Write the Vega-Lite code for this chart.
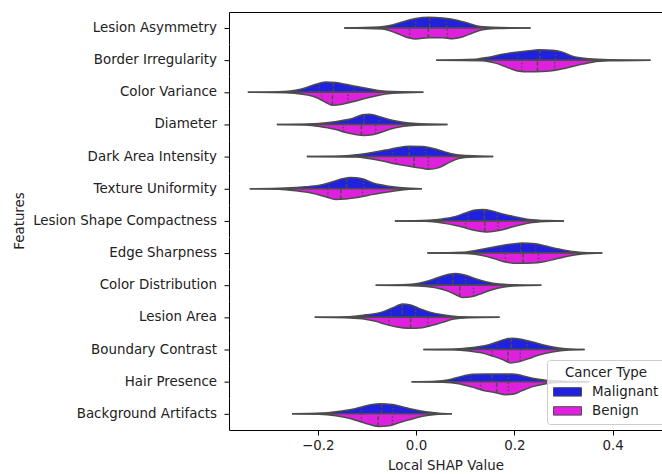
{
"$schema": "https://vega.github.io/schema/vega-lite/v6.json",
"padding": {"left": 12, "top": 12, "right": 0, "bottom": 2},
"bounds": "flush",
"config": {"view": {"stroke": null}, "font": "DejaVu Sans"},
"data": {"values": [
{"feature":"Lesion Asymmetry","type":"Malignant","kind":"outline","shap":-0.146,"density":0},
{"feature":"Lesion Asymmetry","type":"Malignant","kind":"outline","shap":-0.075,"density":1},
{"feature":"Lesion Asymmetry","type":"Malignant","kind":"outline","shap":-0.048,"density":3},
{"feature":"Lesion Asymmetry","type":"Malignant","kind":"outline","shap":-0.028,"density":6},
{"feature":"Lesion Asymmetry","type":"Malignant","kind":"outline","shap":-0.001,"density":9.5},
{"feature":"Lesion Asymmetry","type":"Malignant","kind":"outline","shap":0.026,"density":10.7},
{"feature":"Lesion Asymmetry","type":"Malignant","kind":"outline","shap":0.054,"density":10},
{"feature":"Lesion Asymmetry","type":"Malignant","kind":"outline","shap":0.081,"density":8},
{"feature":"Lesion Asymmetry","type":"Malignant","kind":"outline","shap":0.108,"density":4.5},
{"feature":"Lesion Asymmetry","type":"Malignant","kind":"outline","shap":0.125,"density":2},
{"feature":"Lesion Asymmetry","type":"Malignant","kind":"outline","shap":0.155,"density":0.7},
{"feature":"Lesion Asymmetry","type":"Malignant","kind":"outline","shap":0.233,"density":0},
{"feature":"Lesion Asymmetry","type":"Benign","kind":"outline","shap":-0.146,"density":0},
{"feature":"Lesion Asymmetry","type":"Benign","kind":"outline","shap":-0.068,"density":1},
{"feature":"Lesion Asymmetry","type":"Benign","kind":"outline","shap":-0.041,"density":5},
{"feature":"Lesion Asymmetry","type":"Benign","kind":"outline","shap":-0.014,"density":10},
{"feature":"Lesion Asymmetry","type":"Benign","kind":"outline","shap":-0.001,"density":11},
{"feature":"Lesion Asymmetry","type":"Benign","kind":"outline","shap":0.026,"density":9.7},
{"feature":"Lesion Asymmetry","type":"Benign","kind":"outline","shap":0.054,"density":9.7},
{"feature":"Lesion Asymmetry","type":"Benign","kind":"outline","shap":0.074,"density":10.7},
{"feature":"Lesion Asymmetry","type":"Benign","kind":"outline","shap":0.094,"density":9},
{"feature":"Lesion Asymmetry","type":"Benign","kind":"outline","shap":0.115,"density":5},
{"feature":"Lesion Asymmetry","type":"Benign","kind":"outline","shap":0.135,"density":1.7},
{"feature":"Lesion Asymmetry","type":"Benign","kind":"outline","shap":0.162,"density":0.5},
{"feature":"Lesion Asymmetry","type":"Benign","kind":"outline","shap":0.233,"density":0},
{"feature":"Lesion Asymmetry","type":"Malignant","kind":"quartile","shap":-0.001,"density":9.5},
{"feature":"Lesion Asymmetry","type":"Malignant","kind":"median","shap":0.028,"density":10.65},
{"feature":"Lesion Asymmetry","type":"Malignant","kind":"quartile","shap":0.062,"density":9.4},
{"feature":"Lesion Asymmetry","type":"Benign","kind":"quartile","shap":-0.013,"density":10.1},
{"feature":"Lesion Asymmetry","type":"Benign","kind":"median","shap":0.025,"density":9.75},
{"feature":"Lesion Asymmetry","type":"Benign","kind":"quartile","shap":0.064,"density":10},

{"feature":"Border Irregularity","type":"Malignant","kind":"outline","shap":0.041,"density":0},
{"feature":"Border Irregularity","type":"Malignant","kind":"outline","shap":0.121,"density":1},
{"feature":"Border Irregularity","type":"Malignant","kind":"outline","shap":0.148,"density":3},
{"feature":"Border Irregularity","type":"Malignant","kind":"outline","shap":0.176,"density":6},
{"feature":"Border Irregularity","type":"Malignant","kind":"outline","shap":0.203,"density":8},
{"feature":"Border Irregularity","type":"Malignant","kind":"outline","shap":0.230,"density":9.5},
{"feature":"Border Irregularity","type":"Malignant","kind":"outline","shap":0.250,"density":10.3},
{"feature":"Border Irregularity","type":"Malignant","kind":"outline","shap":0.277,"density":10},
{"feature":"Border Irregularity","type":"Malignant","kind":"outline","shap":0.298,"density":8},
{"feature":"Border Irregularity","type":"Malignant","kind":"outline","shap":0.318,"density":4},
{"feature":"Border Irregularity","type":"Malignant","kind":"outline","shap":0.352,"density":1.5},
{"feature":"Border Irregularity","type":"Malignant","kind":"outline","shap":0.393,"density":0.5},
{"feature":"Border Irregularity","type":"Malignant","kind":"outline","shap":0.477,"density":0},
{"feature":"Border Irregularity","type":"Benign","kind":"outline","shap":0.041,"density":0},
{"feature":"Border Irregularity","type":"Benign","kind":"outline","shap":0.135,"density":0.5},
{"feature":"Border Irregularity","type":"Benign","kind":"outline","shap":0.162,"density":3},
{"feature":"Border Irregularity","type":"Benign","kind":"outline","shap":0.189,"density":8},
{"feature":"Border Irregularity","type":"Benign","kind":"outline","shap":0.209,"density":11},
{"feature":"Border Irregularity","type":"Benign","kind":"outline","shap":0.230,"density":11.7},
{"feature":"Border Irregularity","type":"Benign","kind":"outline","shap":0.257,"density":11.3},
{"feature":"Border Irregularity","type":"Benign","kind":"outline","shap":0.284,"density":10},
{"feature":"Border Irregularity","type":"Benign","kind":"outline","shap":0.304,"density":8},
{"feature":"Border Irregularity","type":"Benign","kind":"outline","shap":0.332,"density":4.7},
{"feature":"Border Irregularity","type":"Benign","kind":"outline","shap":0.359,"density":2},
{"feature":"Border Irregularity","type":"Benign","kind":"outline","shap":0.393,"density":0.7},
{"feature":"Border Irregularity","type":"Benign","kind":"outline","shap":0.477,"density":0},
{"feature":"Border Irregularity","type":"Malignant","kind":"quartile","shap":0.207,"density":8.2},
{"feature":"Border Irregularity","type":"Malignant","kind":"median","shap":0.252,"density":10.3},
{"feature":"Border Irregularity","type":"Malignant","kind":"quartile","shap":0.284,"density":9.4},
{"feature":"Border Irregularity","type":"Benign","kind":"quartile","shap":0.215,"density":11.2},
{"feature":"Border Irregularity","type":"Benign","kind":"median","shap":0.247,"density":11.4},
{"feature":"Border Irregularity","type":"Benign","kind":"quartile","shap":0.282,"density":10.1},

{"feature":"Color Variance","type":"Malignant","kind":"outline","shap":-0.342,"density":0},
{"feature":"Color Variance","type":"Malignant","kind":"outline","shap":-0.279,"density":0.5},
{"feature":"Color Variance","type":"Malignant","kind":"outline","shap":-0.245,"density":2},
{"feature":"Color Variance","type":"Malignant","kind":"outline","shap":-0.224,"density":4.5},
{"feature":"Color Variance","type":"Malignant","kind":"outline","shap":-0.204,"density":8},
{"feature":"Color Variance","type":"Malignant","kind":"outline","shap":-0.184,"density":10.3},
{"feature":"Color Variance","type":"Malignant","kind":"outline","shap":-0.163,"density":9.7},
{"feature":"Color Variance","type":"Malignant","kind":"outline","shap":-0.143,"density":8},
{"feature":"Color Variance","type":"Malignant","kind":"outline","shap":-0.123,"density":6},
{"feature":"Color Variance","type":"Malignant","kind":"outline","shap":-0.096,"density":3.5},
{"feature":"Color Variance","type":"Malignant","kind":"outline","shap":-0.062,"density":1},
{"feature":"Color Variance","type":"Malignant","kind":"outline","shap":0.015,"density":0},
{"feature":"Color Variance","type":"Benign","kind":"outline","shap":-0.342,"density":0},
{"feature":"Color Variance","type":"Benign","kind":"outline","shap":-0.265,"density":0.5},
{"feature":"Color Variance","type":"Benign","kind":"outline","shap":-0.231,"density":2},
{"feature":"Color Variance","type":"Benign","kind":"outline","shap":-0.204,"density":5},
{"feature":"Color Variance","type":"Benign","kind":"outline","shap":-0.184,"density":10},
{"feature":"Color Variance","type":"Benign","kind":"outline","shap":-0.170,"density":13},
{"feature":"Color Variance","type":"Benign","kind":"outline","shap":-0.150,"density":12},
{"feature":"Color Variance","type":"Benign","kind":"outline","shap":-0.129,"density":9.5},
{"feature":"Color Variance","type":"Benign","kind":"outline","shap":-0.102,"density":6},
{"feature":"Color Variance","type":"Benign","kind":"outline","shap":-0.075,"density":3},
{"feature":"Color Variance","type":"Benign","kind":"outline","shap":-0.048,"density":1},
{"feature":"Color Variance","type":"Benign","kind":"outline","shap":0.015,"density":0},
{"feature":"Color Variance","type":"Malignant","kind":"quartile","shap":-0.197,"density":8.8},
{"feature":"Color Variance","type":"Malignant","kind":"median","shap":-0.168,"density":9.85},
{"feature":"Color Variance","type":"Malignant","kind":"quartile","shap":-0.126,"density":6.3},
{"feature":"Color Variance","type":"Benign","kind":"quartile","shap":-0.192,"density":8},
{"feature":"Color Variance","type":"Benign","kind":"median","shap":-0.170,"density":13},
{"feature":"Color Variance","type":"Benign","kind":"quartile","shap":-0.138,"density":10.6},

{"feature":"Diameter","type":"Malignant","kind":"outline","shap":-0.283,"density":0},
{"feature":"Diameter","type":"Malignant","kind":"outline","shap":-0.218,"density":0.5},
{"feature":"Diameter","type":"Malignant","kind":"outline","shap":-0.177,"density":2},
{"feature":"Diameter","type":"Malignant","kind":"outline","shap":-0.150,"density":4},
{"feature":"Diameter","type":"Malignant","kind":"outline","shap":-0.129,"density":6},
{"feature":"Diameter","type":"Malignant","kind":"outline","shap":-0.109,"density":9.7},
{"feature":"Diameter","type":"Malignant","kind":"outline","shap":-0.096,"density":10.3},
{"feature":"Diameter","type":"Malignant","kind":"outline","shap":-0.082,"density":9},
{"feature":"Diameter","type":"Malignant","kind":"outline","shap":-0.062,"density":6},
{"feature":"Diameter","type":"Malignant","kind":"outline","shap":-0.041,"density":3.5},
{"feature":"Diameter","type":"Malignant","kind":"outline","shap":-0.014,"density":1.5},
{"feature":"Diameter","type":"Malignant","kind":"outline","shap":0.064,"density":0},
{"feature":"Diameter","type":"Benign","kind":"outline","shap":-0.283,"density":0},
{"feature":"Diameter","type":"Benign","kind":"outline","shap":-0.224,"density":0.5},
{"feature":"Diameter","type":"Benign","kind":"outline","shap":-0.191,"density":2.5},
{"feature":"Diameter","type":"Benign","kind":"outline","shap":-0.163,"density":5},
{"feature":"Diameter","type":"Benign","kind":"outline","shap":-0.143,"density":8},
{"feature":"Diameter","type":"Benign","kind":"outline","shap":-0.123,"density":10},
{"feature":"Diameter","type":"Benign","kind":"outline","shap":-0.106,"density":11},
{"feature":"Diameter","type":"Benign","kind":"outline","shap":-0.089,"density":10.3},
{"feature":"Diameter","type":"Benign","kind":"outline","shap":-0.075,"density":8.5},
{"feature":"Diameter","type":"Benign","kind":"outline","shap":-0.055,"density":5},
{"feature":"Diameter","type":"Benign","kind":"outline","shap":-0.028,"density":2},
{"feature":"Diameter","type":"Benign","kind":"outline","shap":-0.001,"density":0.7},
{"feature":"Diameter","type":"Benign","kind":"outline","shap":0.064,"density":0},
{"feature":"Diameter","type":"Malignant","kind":"quartile","shap":-0.138,"density":5.1},
{"feature":"Diameter","type":"Malignant","kind":"median","shap":-0.106,"density":9.8},
{"feature":"Diameter","type":"Malignant","kind":"quartile","shap":-0.075,"density":8},
{"feature":"Diameter","type":"Benign","kind":"quartile","shap":-0.148,"density":7.3},
{"feature":"Diameter","type":"Benign","kind":"median","shap":-0.111,"density":10.8},
{"feature":"Diameter","type":"Benign","kind":"quartile","shap":-0.082,"density":9.4},

{"feature":"Dark Area Intensity","type":"Malignant","kind":"outline","shap":-0.222,"density":0},
{"feature":"Dark Area Intensity","type":"Malignant","kind":"outline","shap":-0.150,"density":0.5},
{"feature":"Dark Area Intensity","type":"Malignant","kind":"outline","shap":-0.116,"density":2},
{"feature":"Dark Area Intensity","type":"Malignant","kind":"outline","shap":-0.089,"density":4},
{"feature":"Dark Area Intensity","type":"Malignant","kind":"outline","shap":-0.062,"density":6.5},
{"feature":"Dark Area Intensity","type":"Malignant","kind":"outline","shap":-0.041,"density":8.5},
{"feature":"Dark Area Intensity","type":"Malignant","kind":"outline","shap":-0.014,"density":10.3},
{"feature":"Dark Area Intensity","type":"Malignant","kind":"outline","shap":0.013,"density":10},
{"feature":"Dark Area Intensity","type":"Malignant","kind":"outline","shap":0.040,"density":7.5},
{"feature":"Dark Area Intensity","type":"Malignant","kind":"outline","shap":0.060,"density":4.5},
{"feature":"Dark Area Intensity","type":"Malignant","kind":"outline","shap":0.087,"density":1.5},
{"feature":"Dark Area Intensity","type":"Malignant","kind":"outline","shap":0.157,"density":0},
{"feature":"Dark Area Intensity","type":"Benign","kind":"outline","shap":-0.222,"density":0},
{"feature":"Dark Area Intensity","type":"Benign","kind":"outline","shap":-0.123,"density":0.5},
{"feature":"Dark Area Intensity","type":"Benign","kind":"outline","shap":-0.096,"density":2},
{"feature":"Dark Area Intensity","type":"Benign","kind":"outline","shap":-0.068,"density":4.5},
{"feature":"Dark Area Intensity","type":"Benign","kind":"outline","shap":-0.041,"density":7.5},
{"feature":"Dark Area Intensity","type":"Benign","kind":"outline","shap":-0.014,"density":9.7},
{"feature":"Dark Area Intensity","type":"Benign","kind":"outline","shap":0.013,"density":11.7},
{"feature":"Dark Area Intensity","type":"Benign","kind":"outline","shap":0.026,"density":12.7},
{"feature":"Dark Area Intensity","type":"Benign","kind":"outline","shap":0.047,"density":11},
{"feature":"Dark Area Intensity","type":"Benign","kind":"outline","shap":0.067,"density":6},
{"feature":"Dark Area Intensity","type":"Benign","kind":"outline","shap":0.087,"density":2},
{"feature":"Dark Area Intensity","type":"Benign","kind":"outline","shap":0.115,"density":0.5},
{"feature":"Dark Area Intensity","type":"Benign","kind":"outline","shap":0.157,"density":0},
{"feature":"Dark Area Intensity","type":"Malignant","kind":"quartile","shap":-0.048,"density":8},
{"feature":"Dark Area Intensity","type":"Malignant","kind":"median","shap":-0.014,"density":10.3},
{"feature":"Dark Area Intensity","type":"Malignant","kind":"quartile","shap":0.020,"density":9.4},
{"feature":"Dark Area Intensity","type":"Benign","kind":"quartile","shap":-0.041,"density":7.5},
{"feature":"Dark Area Intensity","type":"Benign","kind":"median","shap":-0.004,"density":10.4},
{"feature":"Dark Area Intensity","type":"Benign","kind":"quartile","shap":0.025,"density":12.6},

{"feature":"Texture Uniformity","type":"Malignant","kind":"outline","shap":-0.338,"density":0},
{"feature":"Texture Uniformity","type":"Malignant","kind":"outline","shap":-0.265,"density":0.7},
{"feature":"Texture Uniformity","type":"Malignant","kind":"outline","shap":-0.224,"density":2},
{"feature":"Texture Uniformity","type":"Malignant","kind":"outline","shap":-0.191,"density":4},
{"feature":"Texture Uniformity","type":"Malignant","kind":"outline","shap":-0.170,"density":7},
{"feature":"Texture Uniformity","type":"Malignant","kind":"outline","shap":-0.150,"density":10},
{"feature":"Texture Uniformity","type":"Malignant","kind":"outline","shap":-0.133,"density":11.3},
{"feature":"Texture Uniformity","type":"Malignant","kind":"outline","shap":-0.109,"density":10},
{"feature":"Texture Uniformity","type":"Malignant","kind":"outline","shap":-0.089,"density":6},
{"feature":"Texture Uniformity","type":"Malignant","kind":"outline","shap":-0.062,"density":3},
{"feature":"Texture Uniformity","type":"Malignant","kind":"outline","shap":-0.028,"density":1},
{"feature":"Texture Uniformity","type":"Malignant","kind":"outline","shap":0.012,"density":0},
{"feature":"Texture Uniformity","type":"Benign","kind":"outline","shap":-0.338,"density":0},
{"feature":"Texture Uniformity","type":"Benign","kind":"outline","shap":-0.279,"density":0.5},
{"feature":"Texture Uniformity","type":"Benign","kind":"outline","shap":-0.245,"density":2},
{"feature":"Texture Uniformity","type":"Benign","kind":"outline","shap":-0.211,"density":4.5},
{"feature":"Texture Uniformity","type":"Benign","kind":"outline","shap":-0.184,"density":8},
{"feature":"Texture Uniformity","type":"Benign","kind":"outline","shap":-0.163,"density":10.7},
{"feature":"Texture Uniformity","type":"Benign","kind":"outline","shap":-0.143,"density":10.3},
{"feature":"Texture Uniformity","type":"Benign","kind":"outline","shap":-0.123,"density":9},
{"feature":"Texture Uniformity","type":"Benign","kind":"outline","shap":-0.096,"density":6.5},
{"feature":"Texture Uniformity","type":"Benign","kind":"outline","shap":-0.068,"density":4},
{"feature":"Texture Uniformity","type":"Benign","kind":"outline","shap":-0.041,"density":2},
{"feature":"Texture Uniformity","type":"Benign","kind":"outline","shap":-0.014,"density":0.5},
{"feature":"Texture Uniformity","type":"Benign","kind":"outline","shap":0.012,"density":0},
{"feature":"Texture Uniformity","type":"Malignant","kind":"quartile","shap":-0.177,"density":6},
{"feature":"Texture Uniformity","type":"Malignant","kind":"median","shap":-0.141,"density":10.7},
{"feature":"Texture Uniformity","type":"Malignant","kind":"quartile","shap":-0.106,"density":9.4},
{"feature":"Texture Uniformity","type":"Benign","kind":"quartile","shap":-0.179,"density":8.6},
{"feature":"Texture Uniformity","type":"Benign","kind":"median","shap":-0.153,"density":10.5},
{"feature":"Texture Uniformity","type":"Benign","kind":"quartile","shap":-0.109,"density":7.7},

{"feature":"Lesion Shape Compactness","type":"Malignant","kind":"outline","shap":-0.043,"density":0},
{"feature":"Lesion Shape Compactness","type":"Malignant","kind":"outline","shap":0.026,"density":0.7},
{"feature":"Lesion Shape Compactness","type":"Malignant","kind":"outline","shap":0.054,"density":2},
{"feature":"Lesion Shape Compactness","type":"Malignant","kind":"outline","shap":0.081,"density":4.5},
{"feature":"Lesion Shape Compactness","type":"Malignant","kind":"outline","shap":0.101,"density":8},
{"feature":"Lesion Shape Compactness","type":"Malignant","kind":"outline","shap":0.121,"density":11},
{"feature":"Lesion Shape Compactness","type":"Malignant","kind":"outline","shap":0.135,"density":11.3},
{"feature":"Lesion Shape Compactness","type":"Malignant","kind":"outline","shap":0.155,"density":10},
{"feature":"Lesion Shape Compactness","type":"Malignant","kind":"outline","shap":0.176,"density":7},
{"feature":"Lesion Shape Compactness","type":"Malignant","kind":"outline","shap":0.203,"density":4},
{"feature":"Lesion Shape Compactness","type":"Malignant","kind":"outline","shap":0.230,"density":1.5},
{"feature":"Lesion Shape Compactness","type":"Malignant","kind":"outline","shap":0.271,"density":0.3},
{"feature":"Lesion Shape Compactness","type":"Malignant","kind":"outline","shap":0.301,"density":0},
{"feature":"Lesion Shape Compactness","type":"Benign","kind":"outline","shap":-0.043,"density":0},
{"feature":"Lesion Shape Compactness","type":"Benign","kind":"outline","shap":0.020,"density":0.3},
{"feature":"Lesion Shape Compactness","type":"Benign","kind":"outline","shap":0.054,"density":2},
{"feature":"Lesion Shape Compactness","type":"Benign","kind":"outline","shap":0.081,"density":4.5},
{"feature":"Lesion Shape Compactness","type":"Benign","kind":"outline","shap":0.101,"density":7},
{"feature":"Lesion Shape Compactness","type":"Benign","kind":"outline","shap":0.121,"density":9.7},
{"feature":"Lesion Shape Compactness","type":"Benign","kind":"outline","shap":0.142,"density":11},
{"feature":"Lesion Shape Compactness","type":"Benign","kind":"outline","shap":0.162,"density":10},
{"feature":"Lesion Shape Compactness","type":"Benign","kind":"outline","shap":0.182,"density":8},
{"feature":"Lesion Shape Compactness","type":"Benign","kind":"outline","shap":0.203,"density":5},
{"feature":"Lesion Shape Compactness","type":"Benign","kind":"outline","shap":0.230,"density":2},
{"feature":"Lesion Shape Compactness","type":"Benign","kind":"outline","shap":0.264,"density":0.5},
{"feature":"Lesion Shape Compactness","type":"Benign","kind":"outline","shap":0.301,"density":0},
{"feature":"Lesion Shape Compactness","type":"Malignant","kind":"quartile","shap":0.106,"density":8.75},
{"feature":"Lesion Shape Compactness","type":"Malignant","kind":"median","shap":0.139,"density":11.1},
{"feature":"Lesion Shape Compactness","type":"Malignant","kind":"quartile","shap":0.165,"density":8.6},
{"feature":"Lesion Shape Compactness","type":"Benign","kind":"quartile","shap":0.101,"density":7},
{"feature":"Lesion Shape Compactness","type":"Benign","kind":"median","shap":0.140,"density":10.9},
{"feature":"Lesion Shape Compactness","type":"Benign","kind":"quartile","shap":0.167,"density":9.5},

{"feature":"Edge Sharpness","type":"Malignant","kind":"outline","shap":0.023,"density":0},
{"feature":"Edge Sharpness","type":"Malignant","kind":"outline","shap":0.094,"density":0.7},
{"feature":"Edge Sharpness","type":"Malignant","kind":"outline","shap":0.121,"density":2.5},
{"feature":"Edge Sharpness","type":"Malignant","kind":"outline","shap":0.148,"density":5},
{"feature":"Edge Sharpness","type":"Malignant","kind":"outline","shap":0.169,"density":7},
{"feature":"Edge Sharpness","type":"Malignant","kind":"outline","shap":0.196,"density":9},
{"feature":"Edge Sharpness","type":"Malignant","kind":"outline","shap":0.216,"density":10},
{"feature":"Edge Sharpness","type":"Malignant","kind":"outline","shap":0.243,"density":9.3},
{"feature":"Edge Sharpness","type":"Malignant","kind":"outline","shap":0.264,"density":7},
{"feature":"Edge Sharpness","type":"Malignant","kind":"outline","shap":0.291,"density":4},
{"feature":"Edge Sharpness","type":"Malignant","kind":"outline","shap":0.318,"density":1.5},
{"feature":"Edge Sharpness","type":"Malignant","kind":"outline","shap":0.352,"density":0.3},
{"feature":"Edge Sharpness","type":"Malignant","kind":"outline","shap":0.379,"density":0},
{"feature":"Edge Sharpness","type":"Benign","kind":"outline","shap":0.023,"density":0},
{"feature":"Edge Sharpness","type":"Benign","kind":"outline","shap":0.101,"density":0.5},
{"feature":"Edge Sharpness","type":"Benign","kind":"outline","shap":0.135,"density":2.5},
{"feature":"Edge Sharpness","type":"Benign","kind":"outline","shap":0.162,"density":6},
{"feature":"Edge Sharpness","type":"Benign","kind":"outline","shap":0.182,"density":9},
{"feature":"Edge Sharpness","type":"Benign","kind":"outline","shap":0.209,"density":10.3},
{"feature":"Edge Sharpness","type":"Benign","kind":"outline","shap":0.237,"density":10},
{"feature":"Edge Sharpness","type":"Benign","kind":"outline","shap":0.257,"density":9},
{"feature":"Edge Sharpness","type":"Benign","kind":"outline","shap":0.284,"density":6},
{"feature":"Edge Sharpness","type":"Benign","kind":"outline","shap":0.311,"density":3},
{"feature":"Edge Sharpness","type":"Benign","kind":"outline","shap":0.338,"density":1},
{"feature":"Edge Sharpness","type":"Benign","kind":"outline","shap":0.379,"density":0},
{"feature":"Edge Sharpness","type":"Malignant","kind":"quartile","shap":0.174,"density":7.4},
{"feature":"Edge Sharpness","type":"Malignant","kind":"median","shap":0.213,"density":9.85},
{"feature":"Edge Sharpness","type":"Malignant","kind":"quartile","shap":0.243,"density":9.3},
{"feature":"Edge Sharpness","type":"Benign","kind":"quartile","shap":0.182,"density":9},
{"feature":"Edge Sharpness","type":"Benign","kind":"median","shap":0.218,"density":10.2},
{"feature":"Edge Sharpness","type":"Benign","kind":"quartile","shap":0.249,"density":9.4},

{"feature":"Color Distribution","type":"Malignant","kind":"outline","shap":-0.082,"density":0},
{"feature":"Color Distribution","type":"Malignant","kind":"outline","shap":-0.028,"density":0.5},
{"feature":"Color Distribution","type":"Malignant","kind":"outline","shap":0.006,"density":2},
{"feature":"Color Distribution","type":"Malignant","kind":"outline","shap":0.026,"density":4.5},
{"feature":"Color Distribution","type":"Malignant","kind":"outline","shap":0.047,"density":8},
{"feature":"Color Distribution","type":"Malignant","kind":"outline","shap":0.067,"density":11},
{"feature":"Color Distribution","type":"Malignant","kind":"outline","shap":0.081,"density":11.7},
{"feature":"Color Distribution","type":"Malignant","kind":"outline","shap":0.101,"density":10},
{"feature":"Color Distribution","type":"Malignant","kind":"outline","shap":0.121,"density":6.5},
{"feature":"Color Distribution","type":"Malignant","kind":"outline","shap":0.142,"density":3.5},
{"feature":"Color Distribution","type":"Malignant","kind":"outline","shap":0.169,"density":1.2},
{"feature":"Color Distribution","type":"Malignant","kind":"outline","shap":0.209,"density":0.3},
{"feature":"Color Distribution","type":"Malignant","kind":"outline","shap":0.255,"density":0},
{"feature":"Color Distribution","type":"Benign","kind":"outline","shap":-0.082,"density":0},
{"feature":"Color Distribution","type":"Benign","kind":"outline","shap":-0.028,"density":0.3},
{"feature":"Color Distribution","type":"Benign","kind":"outline","shap":0.013,"density":1},
{"feature":"Color Distribution","type":"Benign","kind":"outline","shap":0.040,"density":2.5},
{"feature":"Color Distribution","type":"Benign","kind":"outline","shap":0.060,"density":5},
{"feature":"Color Distribution","type":"Benign","kind":"outline","shap":0.081,"density":9.5},
{"feature":"Color Distribution","type":"Benign","kind":"outline","shap":0.094,"density":12.3},
{"feature":"Color Distribution","type":"Benign","kind":"outline","shap":0.115,"density":11.3},
{"feature":"Color Distribution","type":"Benign","kind":"outline","shap":0.135,"density":8},
{"feature":"Color Distribution","type":"Benign","kind":"outline","shap":0.155,"density":4.5},
{"feature":"Color Distribution","type":"Benign","kind":"outline","shap":0.176,"density":2},
{"feature":"Color Distribution","type":"Benign","kind":"outline","shap":0.209,"density":0.5},
{"feature":"Color Distribution","type":"Benign","kind":"outline","shap":0.255,"density":0},
{"feature":"Color Distribution","type":"Malignant","kind":"quartile","shap":0.045,"density":7.7},
{"feature":"Color Distribution","type":"Malignant","kind":"median","shap":0.075,"density":11.4},
{"feature":"Color Distribution","type":"Malignant","kind":"quartile","shap":0.101,"density":10},
{"feature":"Color Distribution","type":"Benign","kind":"quartile","shap":0.052,"density":4},
{"feature":"Color Distribution","type":"Benign","kind":"median","shap":0.089,"density":11.2},
{"feature":"Color Distribution","type":"Benign","kind":"quartile","shap":0.117,"density":11},

{"feature":"Lesion Area","type":"Malignant","kind":"outline","shap":-0.206,"density":0},
{"feature":"Lesion Area","type":"Malignant","kind":"outline","shap":-0.136,"density":0.7},
{"feature":"Lesion Area","type":"Malignant","kind":"outline","shap":-0.102,"density":2.5},
{"feature":"Lesion Area","type":"Malignant","kind":"outline","shap":-0.075,"density":4.5},
{"feature":"Lesion Area","type":"Malignant","kind":"outline","shap":-0.055,"density":8},
{"feature":"Lesion Area","type":"Malignant","kind":"outline","shap":-0.041,"density":11},
{"feature":"Lesion Area","type":"Malignant","kind":"outline","shap":-0.028,"density":13.3},
{"feature":"Lesion Area","type":"Malignant","kind":"outline","shap":-0.011,"density":12.3},
{"feature":"Lesion Area","type":"Malignant","kind":"outline","shap":0.006,"density":9},
{"feature":"Lesion Area","type":"Malignant","kind":"outline","shap":0.026,"density":5.5},
{"feature":"Lesion Area","type":"Malignant","kind":"outline","shap":0.054,"density":2.5},
{"feature":"Lesion Area","type":"Malignant","kind":"outline","shap":0.087,"density":0.7},
{"feature":"Lesion Area","type":"Malignant","kind":"outline","shap":0.170,"density":0},
{"feature":"Lesion Area","type":"Benign","kind":"outline","shap":-0.206,"density":0},
{"feature":"Lesion Area","type":"Benign","kind":"outline","shap":-0.143,"density":0.3},
{"feature":"Lesion Area","type":"Benign","kind":"outline","shap":-0.109,"density":1.5},
{"feature":"Lesion Area","type":"Benign","kind":"outline","shap":-0.082,"density":4},
{"feature":"Lesion Area","type":"Benign","kind":"outline","shap":-0.062,"density":7},
{"feature":"Lesion Area","type":"Benign","kind":"outline","shap":-0.041,"density":9.5},
{"feature":"Lesion Area","type":"Benign","kind":"outline","shap":-0.014,"density":11},
{"feature":"Lesion Area","type":"Benign","kind":"outline","shap":0.013,"density":10.3},
{"feature":"Lesion Area","type":"Benign","kind":"outline","shap":0.033,"density":8},
{"feature":"Lesion Area","type":"Benign","kind":"outline","shap":0.054,"density":5},
{"feature":"Lesion Area","type":"Benign","kind":"outline","shap":0.074,"density":2},
{"feature":"Lesion Area","type":"Benign","kind":"outline","shap":0.108,"density":0.5},
{"feature":"Lesion Area","type":"Benign","kind":"outline","shap":0.170,"density":0},
{"feature":"Lesion Area","type":"Malignant","kind":"quartile","shap":-0.050,"density":9.1},
{"feature":"Lesion Area","type":"Malignant","kind":"median","shap":-0.028,"density":13.3},
{"feature":"Lesion Area","type":"Malignant","kind":"quartile","shap":-0.001,"density":10.4},
{"feature":"Lesion Area","type":"Benign","kind":"quartile","shap":-0.055,"density":7.8},
{"feature":"Lesion Area","type":"Benign","kind":"median","shap":-0.011,"density":10.9},
{"feature":"Lesion Area","type":"Benign","kind":"quartile","shap":0.024,"density":9},

{"feature":"Boundary Contrast","type":"Malignant","kind":"outline","shap":0.015,"density":0},
{"feature":"Boundary Contrast","type":"Malignant","kind":"outline","shap":0.081,"density":0.5},
{"feature":"Boundary Contrast","type":"Malignant","kind":"outline","shap":0.115,"density":2},
{"feature":"Boundary Contrast","type":"Malignant","kind":"outline","shap":0.142,"density":4},
{"feature":"Boundary Contrast","type":"Malignant","kind":"outline","shap":0.162,"density":7},
{"feature":"Boundary Contrast","type":"Malignant","kind":"outline","shap":0.182,"density":10.3},
{"feature":"Boundary Contrast","type":"Malignant","kind":"outline","shap":0.196,"density":11.3},
{"feature":"Boundary Contrast","type":"Malignant","kind":"outline","shap":0.216,"density":10},
{"feature":"Boundary Contrast","type":"Malignant","kind":"outline","shap":0.237,"density":7.5},
{"feature":"Boundary Contrast","type":"Malignant","kind":"outline","shap":0.264,"density":4},
{"feature":"Boundary Contrast","type":"Malignant","kind":"outline","shap":0.291,"density":1.5},
{"feature":"Boundary Contrast","type":"Malignant","kind":"outline","shap":0.318,"density":0.3},
{"feature":"Boundary Contrast","type":"Malignant","kind":"outline","shap":0.343,"density":0},
{"feature":"Boundary Contrast","type":"Benign","kind":"outline","shap":0.015,"density":0},
{"feature":"Boundary Contrast","type":"Benign","kind":"outline","shap":0.074,"density":0.3},
{"feature":"Boundary Contrast","type":"Benign","kind":"outline","shap":0.108,"density":1.5},
{"feature":"Boundary Contrast","type":"Benign","kind":"outline","shap":0.135,"density":3.5},
{"feature":"Boundary Contrast","type":"Benign","kind":"outline","shap":0.155,"density":6.5},
{"feature":"Boundary Contrast","type":"Benign","kind":"outline","shap":0.176,"density":10},
{"feature":"Boundary Contrast","type":"Benign","kind":"outline","shap":0.193,"density":13.5},
{"feature":"Boundary Contrast","type":"Benign","kind":"outline","shap":0.209,"density":12.3},
{"feature":"Boundary Contrast","type":"Benign","kind":"outline","shap":0.230,"density":9},
{"feature":"Boundary Contrast","type":"Benign","kind":"outline","shap":0.250,"density":5.5},
{"feature":"Boundary Contrast","type":"Benign","kind":"outline","shap":0.277,"density":2.5},
{"feature":"Boundary Contrast","type":"Benign","kind":"outline","shap":0.311,"density":0.5},
{"feature":"Boundary Contrast","type":"Benign","kind":"outline","shap":0.343,"density":0},
{"feature":"Boundary Contrast","type":"Malignant","kind":"quartile","shap":0.165,"density":7.5},
{"feature":"Boundary Contrast","type":"Malignant","kind":"median","shap":0.194,"density":11.2},
{"feature":"Boundary Contrast","type":"Malignant","kind":"quartile","shap":0.226,"density":8.8},
{"feature":"Boundary Contrast","type":"Benign","kind":"quartile","shap":0.155,"density":6.5},
{"feature":"Boundary Contrast","type":"Benign","kind":"median","shap":0.187,"density":12.2},
{"feature":"Boundary Contrast","type":"Benign","kind":"quartile","shap":0.212,"density":11.8},

{"feature":"Hair Presence","type":"Malignant","kind":"outline","shap":-0.009,"density":0},
{"feature":"Hair Presence","type":"Malignant","kind":"outline","shap":0.040,"density":0.5},
{"feature":"Hair Presence","type":"Malignant","kind":"outline","shap":0.067,"density":2},
{"feature":"Hair Presence","type":"Malignant","kind":"outline","shap":0.094,"density":5.5},
{"feature":"Hair Presence","type":"Malignant","kind":"outline","shap":0.115,"density":7.5},
{"feature":"Hair Presence","type":"Malignant","kind":"outline","shap":0.142,"density":7.7},
{"feature":"Hair Presence","type":"Malignant","kind":"outline","shap":0.169,"density":7.7},
{"feature":"Hair Presence","type":"Malignant","kind":"outline","shap":0.196,"density":7.7},
{"feature":"Hair Presence","type":"Malignant","kind":"outline","shap":0.216,"density":6},
{"feature":"Hair Presence","type":"Malignant","kind":"outline","shap":0.237,"density":3.5},
{"feature":"Hair Presence","type":"Malignant","kind":"outline","shap":0.264,"density":1.5},
{"feature":"Hair Presence","type":"Malignant","kind":"outline","shap":0.298,"density":0.5},
{"feature":"Hair Presence","type":"Malignant","kind":"outline","shap":0.352,"density":0},
{"feature":"Hair Presence","type":"Benign","kind":"outline","shap":-0.009,"density":0},
{"feature":"Hair Presence","type":"Benign","kind":"outline","shap":0.054,"density":0.5},
{"feature":"Hair Presence","type":"Benign","kind":"outline","shap":0.087,"density":2},
{"feature":"Hair Presence","type":"Benign","kind":"outline","shap":0.115,"density":5.5},
{"feature":"Hair Presence","type":"Benign","kind":"outline","shap":0.135,"density":8.5},
{"feature":"Hair Presence","type":"Benign","kind":"outline","shap":0.162,"density":11},
{"feature":"Hair Presence","type":"Benign","kind":"outline","shap":0.182,"density":13},
{"feature":"Hair Presence","type":"Benign","kind":"outline","shap":0.196,"density":12.7},
{"feature":"Hair Presence","type":"Benign","kind":"outline","shap":0.216,"density":9},
{"feature":"Hair Presence","type":"Benign","kind":"outline","shap":0.237,"density":5},
{"feature":"Hair Presence","type":"Benign","kind":"outline","shap":0.264,"density":2},
{"feature":"Hair Presence","type":"Benign","kind":"outline","shap":0.298,"density":0.5},
{"feature":"Hair Presence","type":"Benign","kind":"outline","shap":0.352,"density":0},
{"feature":"Hair Presence","type":"Malignant","kind":"quartile","shap":0.111,"density":7.1},
{"feature":"Hair Presence","type":"Malignant","kind":"median","shap":0.155,"density":7.7},
{"feature":"Hair Presence","type":"Malignant","kind":"quartile","shap":0.188,"density":7.7},
{"feature":"Hair Presence","type":"Benign","kind":"quartile","shap":0.132,"density":8.1},
{"feature":"Hair Presence","type":"Benign","kind":"median","shap":0.164,"density":11.2},
{"feature":"Hair Presence","type":"Benign","kind":"quartile","shap":0.188,"density":12.9},

{"feature":"Background Artifacts","type":"Malignant","kind":"outline","shap":-0.252,"density":0},
{"feature":"Background Artifacts","type":"Malignant","kind":"outline","shap":-0.191,"density":0.7},
{"feature":"Background Artifacts","type":"Malignant","kind":"outline","shap":-0.157,"density":2.5},
{"feature":"Background Artifacts","type":"Malignant","kind":"outline","shap":-0.129,"density":4.5},
{"feature":"Background Artifacts","type":"Malignant","kind":"outline","shap":-0.109,"density":7},
{"feature":"Background Artifacts","type":"Malignant","kind":"outline","shap":-0.089,"density":9.3},
{"feature":"Background Artifacts","type":"Malignant","kind":"outline","shap":-0.072,"density":10},
{"feature":"Background Artifacts","type":"Malignant","kind":"outline","shap":-0.048,"density":9.3},
{"feature":"Background Artifacts","type":"Malignant","kind":"outline","shap":-0.028,"density":7},
{"feature":"Background Artifacts","type":"Malignant","kind":"outline","shap":-0.007,"density":4.5},
{"feature":"Background Artifacts","type":"Malignant","kind":"outline","shap":0.020,"density":2},
{"feature":"Background Artifacts","type":"Malignant","kind":"outline","shap":0.047,"density":0.5},
{"feature":"Background Artifacts","type":"Malignant","kind":"outline","shap":0.073,"density":0},
{"feature":"Background Artifacts","type":"Benign","kind":"outline","shap":-0.252,"density":0},
{"feature":"Background Artifacts","type":"Benign","kind":"outline","shap":-0.197,"density":0.5},
{"feature":"Background Artifacts","type":"Benign","kind":"outline","shap":-0.163,"density":2},
{"feature":"Background Artifacts","type":"Benign","kind":"outline","shap":-0.136,"density":4.5},
{"feature":"Background Artifacts","type":"Benign","kind":"outline","shap":-0.116,"density":7.5},
{"feature":"Background Artifacts","type":"Benign","kind":"outline","shap":-0.096,"density":10.5},
{"feature":"Background Artifacts","type":"Benign","kind":"outline","shap":-0.075,"density":12.7},
{"feature":"Background Artifacts","type":"Benign","kind":"outline","shap":-0.055,"density":12},
{"feature":"Background Artifacts","type":"Benign","kind":"outline","shap":-0.035,"density":9},
{"feature":"Background Artifacts","type":"Benign","kind":"outline","shap":-0.014,"density":6},
{"feature":"Background Artifacts","type":"Benign","kind":"outline","shap":0.013,"density":2.5},
{"feature":"Background Artifacts","type":"Benign","kind":"outline","shap":0.040,"density":0.7},
{"feature":"Background Artifacts","type":"Benign","kind":"outline","shap":0.073,"density":0},
{"feature":"Background Artifacts","type":"Malignant","kind":"quartile","shap":-0.111,"density":6.8},
{"feature":"Background Artifacts","type":"Malignant","kind":"median","shap":-0.070,"density":10},
{"feature":"Background Artifacts","type":"Malignant","kind":"quartile","shap":-0.047,"density":9.2},
{"feature":"Background Artifacts","type":"Benign","kind":"quartile","shap":-0.111,"density":8.3},
{"feature":"Background Artifacts","type":"Benign","kind":"median","shap":-0.077,"density":12.5},
{"feature":"Background Artifacts","type":"Benign","kind":"quartile","shap":-0.048,"density":11}
]},
"facet": {"row": {"field": "feature", "type": "nominal",
  "sort": ["Lesion Asymmetry","Border Irregularity","Color Variance","Diameter","Dark Area Intensity","Texture Uniformity","Lesion Shape Compactness","Edge Sharpness","Color Distribution","Lesion Area","Boundary Contrast","Hair Presence","Background Artifacts"],
  "title": "Features",
  "header": {"labelAngle": 0, "labelAlign": "left", "labelOrient": "left", "labelBaseline": "middle", "labelFont": "DejaVu Sans", "labelFontSize": 13.4, "labelColor": "#222222", "labelPadding": 12,
             "titleFont": "DejaVu Sans", "titleFontSize": 13.4, "titleFontWeight": "normal", "titleColor": "#222222", "titleOrient": "left", "titleAngle": -90, "titlePadding": -17}}},
"spacing": 0.15,
"resolve": {"scale": {"y": "independent"}, "axis": {"y": "independent"}},
"spec": {
  "width": 433, "height": 32,
  "layer": [
    {"encoding": {
       "x": {"field": "shap", "type": "quantitative", "title": "Local SHAP Value",
         "scale": {"domain": [-0.3803, 0.5003], "nice": false, "zero": false},
         "axis": {"orient": "bottom", "values": [-0.2, 0, 0.2, 0.4], "format": ".1f", "grid": false, "tickSize": 5, "labelFontSize": 13.4, "titleFontSize": 13.4, "titleFontWeight": "normal", "labelColor": "#222222", "titleColor": "#222222", "domainColor": "black", "tickColor": "black", "labelPadding": 3, "titlePadding": 7, "labelFont": "DejaVu Sans", "titleFont": "DejaVu Sans"}},
       "y": {"field": "density", "type": "quantitative", "title": null,
         "scale": {"domain": [-16, 16], "nice": false, "zero": false},
         "axis": {"orient": "left", "values": [0], "labels": false, "grid": false, "title": null, "tickSize": 5, "domainColor": "black", "tickColor": "black"}}},
     "layer": [
       {"transform": [{"filter": "datum.kind === 'outline' && datum.type === 'Malignant'"}],
        "mark": {"type": "area", "interpolate": "monotone", "stroke": "#4c4c4c", "strokeWidth": 1.5, "fillOpacity": 1},
        "encoding": {"fill": {"field": "type", "type": "nominal", "title": "Cancer Type",
          "scale": {"domain": ["Malignant", "Benign"], "range": ["#2020df", "#df20df"]},
          "legend": {"orient": "none", "legendX": 318, "legendY": 348, "titleAnchor": "middle", "titleAlign": "center", "titleFontSize": 13.4, "titleFontWeight": "normal", "titleColor": "#222222", "labelFontSize": 13.4, "labelColor": "#222222", "symbolType": "M-1,-0.6H3V0.6H-1Z", "symbolSize": 196, "symbolStrokeColor": "#4c4c4c", "symbolStrokeWidth": 1, "symbolOpacity": 1, "labelOffset": 24, "rowPadding": 5, "padding": 6, "titlePadding": 5, "fillColor": "rgba(255,255,255,0.8)", "strokeColor": "#cccccc", "cornerRadius": 3}}}},
       {"transform": [{"filter": "datum.kind === 'median' && datum.type === 'Malignant'"}],
        "mark": {"type": "rule", "stroke": "#4c4c4c", "strokeWidth": 1.5, "strokeDash": [4, 2]},
        "encoding": {"y2": {"datum": 0}}},
       {"transform": [{"filter": "datum.kind === 'quartile' && datum.type === 'Malignant'"}],
        "mark": {"type": "rule", "stroke": "#4c4c4c", "strokeWidth": 1.5, "strokeDash": [1.5, 2]},
        "encoding": {"y2": {"datum": 0}}}
     ]},
    {"encoding": {
       "x": {"field": "shap", "type": "quantitative", "title": null,
         "scale": {"domain": [-0.3803, 0.5003], "nice": false, "zero": false},
         "axis": {"orient": "top", "labels": false, "ticks": false, "grid": false, "title": null, "domainColor": "black"}},
       "y": {"field": "density", "type": "quantitative", "title": null,
         "scale": {"domain": [-16, 16], "nice": false, "zero": false, "reverse": true},
         "axis": {"orient": "right", "labels": false, "ticks": false, "grid": false, "title": null, "domainColor": "black"}}},
     "layer": [
       {"transform": [{"filter": "datum.kind === 'outline' && datum.type === 'Benign'"}],
        "mark": {"type": "area", "interpolate": "monotone", "stroke": "#4c4c4c", "strokeWidth": 1.5, "fillOpacity": 1},
        "encoding": {"fill": {"field": "type", "type": "nominal", "title": "Cancer Type",
          "scale": {"domain": ["Malignant", "Benign"], "range": ["#2020df", "#df20df"]}}}},
       {"transform": [{"filter": "datum.kind === 'median' && datum.type === 'Benign'"}],
        "mark": {"type": "rule", "stroke": "#4c4c4c", "strokeWidth": 1.5, "strokeDash": [4, 2]},
        "encoding": {"y2": {"datum": 0}}},
       {"transform": [{"filter": "datum.kind === 'quartile' && datum.type === 'Benign'"}],
        "mark": {"type": "rule", "stroke": "#4c4c4c", "strokeWidth": 1.5, "strokeDash": [1.5, 2]},
        "encoding": {"y2": {"datum": 0}}}
     ]}
  ],
  "resolve": {"scale": {"y": "independent"}, "axis": {"x": "independent", "y": "independent"}}
}
}
